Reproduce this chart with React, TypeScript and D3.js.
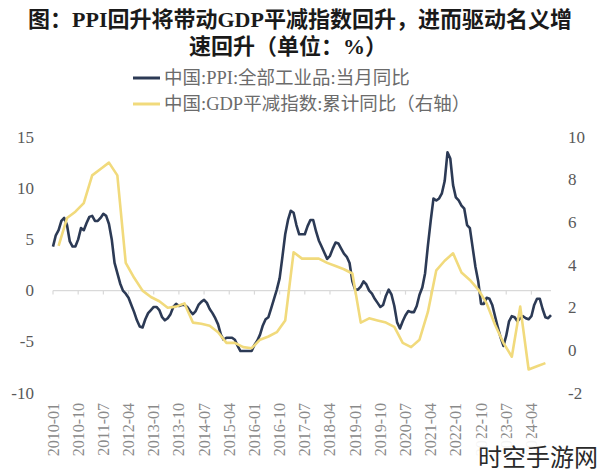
import React from "react";
import * as d3 from "d3";

// PPI monthly YoY, 2010-01 .. 2024-11 (left axis)
const ppiStart = "2010-01";
const ppiValues: number[] = [
  4.3, 5.4, 5.9, 6.8, 7.1, 6.4, 4.8, 4.3, 4.3, 5.0, 6.1, 5.9,
  6.6, 7.2, 7.3, 6.8, 6.8, 7.1, 7.5, 7.3, 6.5, 5.0, 2.7, 1.7,
  0.7, 0.0, -0.3, -0.7, -1.4, -2.1, -2.9, -3.5, -3.6, -2.8, -2.2, -1.9,
  -1.6, -1.6, -1.9, -2.6, -2.9, -2.7, -2.3, -1.6, -1.3, -1.5, -1.4, -1.4,
  -1.6, -2.0, -2.3, -2.0, -1.4, -1.1, -0.9, -1.2, -1.8, -2.2, -2.7, -3.3,
  -4.3, -4.8, -4.6, -4.6, -4.6, -4.8, -5.4, -5.9, -5.9, -5.9, -5.9, -5.9,
  -5.3, -4.9, -4.3, -3.4, -2.8, -2.6, -1.7, -0.8, 0.1, 1.2, 3.3, 5.5,
  6.9, 7.8, 7.6, 6.4, 5.5, 5.5, 5.5, 6.3, 6.9, 6.9, 5.8, 4.9,
  4.3, 3.7, 3.1, 3.4, 4.1, 4.7, 4.6, 4.1, 3.6, 3.3, 2.7, 0.9,
  0.1, 0.1, 0.4, 0.9, 0.6, 0.0, -0.3, -0.8, -1.2, -1.6, -1.4, -0.5,
  0.1, -0.4, -1.5, -3.1, -3.7, -3.0, -2.4, -2.0, -2.1, -2.1, -1.5, -0.4,
  0.3, 1.7, 4.4, 6.8, 9.0, 8.8, 9.0, 9.5, 10.7, 13.5, 12.9, 10.3,
  9.1, 8.8, 8.3, 8.0, 6.4, 6.1, 4.2, 2.3, 0.9, -1.3, -1.3, -0.7,
  -0.8, -1.4, -2.5, -3.6, -4.6, -5.4, -4.4, -3.0, -2.5, -2.6, -3.0, -2.7,
  -2.5, -2.7, -2.8, -2.5, -1.4, -0.8, -0.8, -1.8, -2.6, -2.7, -2.4,
];

// GDP deflator cumulative YoY, quarterly 2010-03 .. 2024-09 (right axis)
const gdpStart = "2010-03";
const gdpValues: number[] = [
  4.9, 6.2, 6.5, 6.9,
  8.2, 8.5, 8.8, 8.2,
  4.1, 3.4, 2.8, 2.5,
  2.3, 2.0, 2.05, 2.2,
  1.3, 1.25, 1.15, 0.85,
  0.35, 0.35, 0.15, 0.1,
  0.5, 0.65, 0.85, 1.4,
  4.6, 4.3, 4.3, 4.3,
  4.1, 3.95, 3.8, 3.6,
  1.3, 1.5, 1.4, 1.3,
  1.1, 0.35, 0.15, 0.5,
  1.8, 3.75, 4.2, 4.55,
  3.65, 3.3, 2.85, 2.2,
  1.2, 0.35, -0.3, 2.05,
  -0.9, -0.75, -0.6,
];

const xTickLabels = [
  "2010-01", "2010-10", "2011-07", "2012-04", "2013-01", "2013-10", "2014-07",
  "2015-04", "2016-01", "2016-10", "2017-07", "2018-04", "2019-01", "2019-10",
  "2020-07", "2021-04", "2022-01", "2022-10", "2023-07", "2024-04",
];
const leftTicks = [15, 10, 5, 0, -5, -10];
const rightTicks = [10, 8, 6, 4, 2, 0, -2];

const titleLines = ["图：PPI回升将带动GDP平减指数回升，进而驱动名义增", "速回升（单位：%）"];
const legendLabels = ["中国:PPI:全部工业品:当月同比", "中国:GDP平减指数:累计同比（右轴）"];
const watermark = "时空手游网";

const monthIndex = (s: string) => {
  const [y, m] = s.split("-").map(Number);
  return (y - 2010) * 12 + (m - 1);
};

const W = 600, H = 473;
const FONT = "'Liberation Serif', 'Noto Sans CJK SC', serif";
const BLUE = "#2c3a55";
const YELLOW = "#f1da7c";

export default function App() {
  const p0 = monthIndex(ppiStart);
  const g0 = monthIndex(gdpStart);
  const ppi = ppiValues.map((v, i) => ({ m: p0 + i, v }));
  const gdp = gdpValues.map((v, i) => ({ m: g0 + i * 3, v }));
  const lastM = ppi[ppi.length - 1].m;

  const x = d3.scaleLinear().domain([0, lastM]).range([53, 551]);
  const yL = d3.scaleLinear().domain([-10, 15]).range([393, 137]);
  const yR = d3.scaleLinear().domain([-2, 10]).range([393, 137]);

  const lineL = d3.line<{ m: number; v: number }>().x(d => x(d.m)).y(d => yL(d.v));
  const lineR = d3.line<{ m: number; v: number }>().x(d => x(d.m)).y(d => yR(d.v));

  return (
    <svg width={W} height={H} style={{ position: "absolute", left: 0, top: 0, background: "#fff" }}>
      <rect width={W} height={H} fill="#fff" />
      {titleLines.map((t, i) => (
        <text key={i} x={i === 0 ? 300 : 288} y={19 + i * 27} textAnchor="middle" dominantBaseline="central"
          fontFamily={FONT} fontWeight={700} fontSize={22} fill="#1a1a1a">{t}</text>
      ))}
      {legendLabels.map((t, i) => (
        <g key={i}>
          <line x1={133} x2={160} y1={78 + i * 26} y2={78 + i * 26} stroke={i === 0 ? BLUE : YELLOW} strokeWidth={3} />
          <text x={164} y={78 + i * 26} dominantBaseline="central" fontFamily={FONT} fontSize={18.5} fill="#6b6b6b">{t}</text>
        </g>
      ))}
      {/* zero line */}
      <line x1={x(0)} x2={x(lastM)} y1={yL(0)} y2={yL(0)} stroke="#d9d9d9" strokeWidth={1.2} />
      {xTickLabels.map(l => (
        <line key={l} x1={x(monthIndex(l))} x2={x(monthIndex(l))} y1={yL(0)} y2={yL(0) + 4} stroke="#d9d9d9" strokeWidth={1.2} />
      ))}
      {leftTicks.map(t => (
        <text key={t} x={34} y={yL(t)} textAnchor="end" dominantBaseline="central" fontFamily={FONT} fontSize={17} fill="#595959">{t}</text>
      ))}
      {rightTicks.map(t => (
        <text key={t} x={568} y={yR(t)} textAnchor="start" dominantBaseline="central" fontFamily={FONT} fontSize={17} fill="#595959">{t}</text>
      ))}
      {xTickLabels.map(l => (
        <text key={l} transform={`translate(${x(monthIndex(l))},403) rotate(-90)`} textAnchor="end" dominantBaseline="central"
          fontFamily={FONT} fontSize={16} fill="#8a8a8a">{l}</text>
      ))}
      <path d={lineL(ppi) || ""} fill="none" stroke={BLUE} strokeWidth={2.6} strokeLinejoin="round" />
      <path d={lineR(gdp) || ""} fill="none" stroke={YELLOW} strokeWidth={2.6} strokeLinejoin="round" />
      <rect x={474} y={438} width={126} height={32} fill="#fff" opacity={0.9} />
      <text x={478} y={455} dominantBaseline="central" fontFamily="'Noto Sans CJK SC', sans-serif" fontSize={24} fill="#2a2a2a">{watermark}</text>
    </svg>
  );
}
